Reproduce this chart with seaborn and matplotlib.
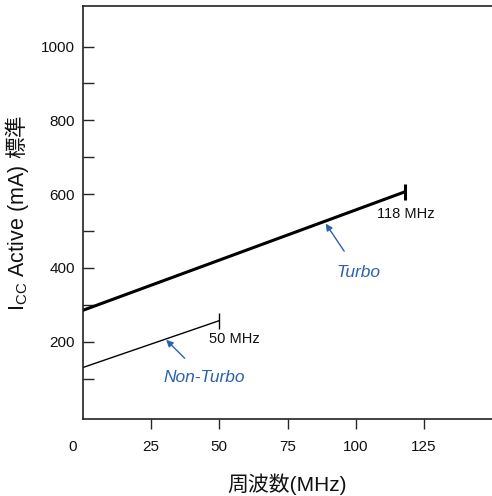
import matplotlib
matplotlib.use("Agg")
import matplotlib.pyplot as plt
import matplotlib.transforms as mtransforms
import seaborn as sns
import pandas as pd

# values
turbo_freq = [0, 118]
turbo_icc = [285, 606]
nonturbo_freq = [0, 50]
nonturbo_icc = [130, 257]
x_ticks = [0, 25, 50, 75, 100, 125]
y_major = [200, 400, 600, 800, 1000]
y_minor = [100, 300, 500, 700, 900]

sns.set_style("ticks")
plt.rcParams["font.family"] = ["Liberation Sans", "Noto Sans CJK JP", "DejaVu Sans"]
# mathtext has no family fallback, so kanji go through a math font that has them
plt.rcParams["mathtext.fontset"] = "custom"
plt.rcParams["mathtext.rm"] = "Noto Sans CJK JP"
plt.rcParams["mathtext.it"] = "Noto Sans CJK JP"
plt.rcParams["mathtext.sf"] = "Liberation Sans"

df = pd.concat([
    pd.DataFrame({"freq": turbo_freq, "icc": turbo_icc, "mode": "Turbo"}),
    pd.DataFrame({"freq": nonturbo_freq, "icc": nonturbo_icc, "mode": "Non-Turbo"}),
])

fig = plt.figure(figsize=(4.92, 4.96), dpi=100)
ax = fig.add_axes([0.1687, 0.155, 0.8313, 0.833])

sns.lineplot(data=df[df["mode"] == "Turbo"], x="freq", y="icc", color="black",
             linewidth=2.2, ax=ax, legend=False)
sns.lineplot(data=df[df["mode"] == "Non-Turbo"], x="freq", y="icc", color="black",
             linewidth=1.0, ax=ax, legend=False)

# end caps
ax.plot([turbo_freq[-1]], [turbo_icc[-1]], marker="|", markersize=11, mew=2.2, color="black")
ax.plot([nonturbo_freq[-1]], [nonturbo_icc[-1]], marker="|", markersize=11, mew=1.0, color="black")

ax.text(118.5, 545, "118 MHz", ha="center", va="center", fontsize=10.5, color="#111111")
ax.text(55.5, 206, "50 MHz", ha="center", va="center", fontsize=10.5, color="#111111")

blue = "#2a62b0"
ax.annotate("Turbo", xy=(89, 520), xytext=(101, 388), ha="center", va="center",
            fontsize=12.5, style="italic", color=blue,
            arrowprops=dict(arrowstyle="-|>", color=blue, lw=1.0, mutation_scale=10,
                            shrinkA=9, shrinkB=0))
ax.annotate("Non-Turbo", xy=(30.5, 205), xytext=(44.5, 102), ha="center", va="center",
            fontsize=12.5, style="italic", color=blue,
            arrowprops=dict(arrowstyle="-|>", color=blue, lw=1.0, mutation_scale=10,
                            shrinkA=9, shrinkB=0))

ax.set_xlim(0, 150)
ax.set_ylim(-10, 1110)
ax.set_xticks(x_ticks)
ax.set_xticklabels([str(v) for v in x_ticks], fontsize=11, color="#111111")
ax.set_yticks(y_major)
ax.set_yticklabels([str(v) for v in y_major], fontsize=11, color="#111111")
ax.set_yticks(y_minor, minor=True)
ax.tick_params(axis="x", direction="out", length=7, width=1, pad=8)
ax.tick_params(axis="y", which="both", direction="in", length=8, width=1, pad=6)
ax.tick_params(axis="x", which="minor", length=0)

# origin label sits left of the spine
lbl = ax.get_xticklabels()[0]
lbl.set_transform(lbl.get_transform() + mtransforms.ScaledTranslation(-0.1, 0, fig.dpi_scale_trans))
ax.xaxis.get_major_ticks()[0].tick1line.set_visible(False)

for s in ["left", "top", "bottom"]:
    ax.spines[s].set_linewidth(1.2)
    ax.spines[s].set_color("#222222")
ax.spines["right"].set_visible(False)

ax.set_xlabel("周波数(MHz)", fontsize=15, labelpad=14, color="#111111")
ax.set_ylabel("$\\mathsf{I}_{\\mathsf{CC}}$ Active (mA)$\\mathrm{\\ 標準}$",
              fontsize=15.5, labelpad=7, color="#111111")

fig.savefig("out.png", dpi=100)
